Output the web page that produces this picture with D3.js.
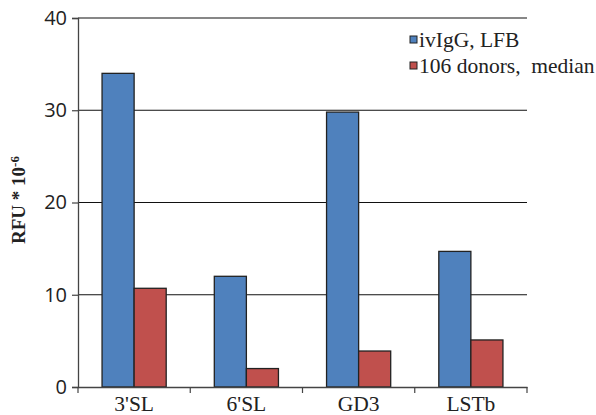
<!DOCTYPE html>
<html>
<head>
<meta charset="utf-8">
<style>
  body { margin: 0; background: #fff; }
  .ytick text { font-family: "Open Sans", sans-serif; font-size: 20px; fill: #222; }
  .xtick text { font-family: "Liberation Serif", serif; font-size: 21.5px; fill: #222; }
</style>
<script src="https://cdn.jsdelivr.net/npm/d3@7"></script>
</head>
<body>
<div id="chart"></div>
<script>
var categories = ["3'SL", "6'SL", "GD3", "LSTb"];
var seriesNames = ["ivIgG, LFB", "106 donors,  median"];
var ivigg = [34, 12, 29.8, 14.7];
var donors = [10.7, 2, 3.9, 5.1];
var yTicks = [0, 10, 20, 30, 40];
var colors = ["#4F81BD", "#C0504D"];

var W = 596, H = 415;
var margin = {top: 18, right: 69, bottom: 28, left: 78};
var width = W - margin.left - margin.right,
    height = H - margin.top - margin.bottom;

var svg = d3.select("#chart").append("svg")
    .attr("width", W).attr("height", H)
  .append("g")
    .attr("transform", `translate(${margin.left},${margin.top})`);

var x = d3.scaleBand().domain(categories).range([0, width]).paddingInner(0).paddingOuter(0);
var x1 = d3.scaleBand().domain([0, 1]).range([0, x.bandwidth()]).paddingOuter(0.75).paddingInner(0);
var y = d3.scaleLinear().domain([0, 40]).range([height, 0]);

// gridlines
svg.selectAll(".grid").data(yTicks.filter(d => d > 0)).enter().append("line")
    .attr("x1", 0).attr("x2", width)
    .attr("y1", d => y(d)).attr("y2", d => y(d))
    .attr("stroke", "#111").attr("stroke-width", 1.2);

// bars
var rows = categories.map((c, i) => ({cat: c, vals: [ivigg[i], donors[i]]}));
var grp = svg.selectAll(".cat").data(rows).enter().append("g")
    .attr("transform", d => `translate(${x(d.cat)},0)`);
grp.selectAll("rect").data(d => d.vals.map((v, k) => ({v: v, k: k}))).enter().append("rect")
    .attr("x", d => x1(d.k))
    .attr("width", x1.bandwidth())
    .attr("y", d => y(d.v))
    .attr("height", d => height - y(d.v))
    .attr("fill", d => colors[d.k])
    .attr("stroke", "#222").attr("stroke-width", 1.3);

// y axis
var yAxis = svg.append("g").attr("class", "ytick")
    .call(d3.axisLeft(y).tickValues(yTicks).tickSize(6).tickPadding(5));
yAxis.select(".domain").attr("stroke", "#444").attr("stroke-width", 1.3);
yAxis.selectAll(".tick line").attr("stroke", "#444").attr("stroke-width", 1.2);

// x axis
var xAxis = svg.append("g").attr("class", "xtick")
    .attr("transform", `translate(0,${height})`)
    .call(d3.axisBottom(x).tickSize(0).tickPadding(0));
xAxis.select(".domain").attr("stroke", "#444").attr("stroke-width", 1.3);
xAxis.selectAll(".tick text").attr("dy", null).attr("y", 24);
var edges = categories.map(c => x(c)).concat([width]);
xAxis.selectAll(".edge").data(edges).enter().append("line")
    .attr("x1", d => d).attr("x2", d => d)
    .attr("y1", 0).attr("y2", 6)
    .attr("stroke", "#444").attr("stroke-width", 1.2);

// y title
var yt = svg.append("text")
    .attr("transform", `translate(${-53},${200 - margin.top}) rotate(-90)`)
    .attr("text-anchor", "middle")
    .style("font-family", "Liberation Serif, serif")
    .style("font-size", "19px").style("font-weight", "bold").attr("fill", "#222");
yt.append("tspan").text("RFU * 10");
yt.append("tspan").attr("dy", "-0.45em").style("font-size", "13px").text("-6");

// legend
var leg = svg.append("g").attr("transform", `translate(${410 - margin.left},${39.5 - margin.top})`);
seriesNames.forEach(function(n, i) {
  var g = leg.append("g").attr("transform", `translate(0,${i * 26})`);
  g.append("rect").attr("x", 0).attr("y", -3.5).attr("width", 7).attr("height", 7)
    .attr("fill", colors[i]).attr("stroke", "#222").attr("stroke-width", 1);
  g.append("text").attr("x", 9).attr("y", 0).attr("dy", "0.33em")
    .style("font-family", "Liberation Serif, serif").style("font-size", "21.5px")
    .style("white-space", "pre")
    .attr("fill", "#222").text(n);
});
</script>
</body>
</html>
